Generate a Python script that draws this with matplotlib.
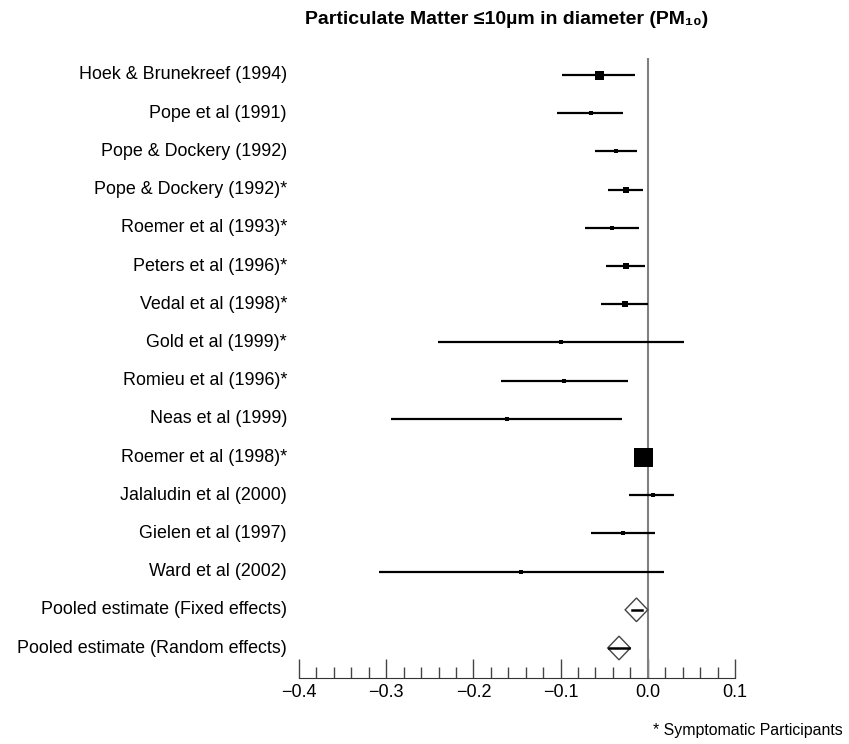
import numpy as np
import matplotlib
matplotlib.use("Agg")
import matplotlib.pyplot as plt

plt.rcParams['font.family'] = ['Liberation Sans', 'DejaVu Sans']

studies = ['Hoek & Brunekreef (1994)',
           'Pope et al (1991)',
           'Pope & Dockery (1992)',
           'Pope & Dockery (1992)*',
           'Roemer et al (1993)*',
           'Peters et al (1996)*',
           'Vedal et al (1998)*',
           'Gold et al (1999)*',
           'Romieu et al (1996)*',
           'Neas et al (1999)',
           'Roemer et al (1998)*',
           'Jalaludin et al (2000)',
           'Gielen et al (1997)',
           'Ward et al (2002)']
est = [-0.056, -0.065, -0.036, -0.025, -0.041, -0.025, -0.026, -0.099, -0.096, -0.162,
       -0.006, 0.006, -0.028, -0.145]
lo = [-0.098, -0.104, -0.060, -0.046, -0.072, -0.048, -0.054, -0.241, -0.168, -0.294,
      -0.012, -0.021, -0.065, -0.308]
hi = [-0.015, -0.028, -0.012, -0.005, -0.010, -0.003, 0.000, 0.042, -0.023, -0.030,
      0.000, 0.030, 0.008, 0.019]
# box size (px) ~ study weight
box = [9, 5, 4, 6, 4, 6, 6, 4, 4, 4, 19, 5, 5, 5]

pooled = ['Pooled estimate (Fixed effects)', 'Pooled estimate (Random effects)']
pool_est = [-0.013, -0.033]
pool_lo = [-0.026, -0.046]
pool_hi = [0.000, -0.020]
pool_line = [(-0.018, -0.007), (-0.045, -0.021)]

fig = plt.figure(figsize=(8.49, 7.44), dpi=100)
ax = fig.add_axes([299/849, 1-678/744, (735-299)/849, (678-58)/744])

n = len(studies)
ypos = np.arange(n)
for i in range(n):
    ax.plot([lo[i], hi[i]], [ypos[i], ypos[i]], color='black', lw=1.6, solid_capstyle='butt', zorder=3)
    ax.plot(est[i], ypos[i], marker='s', color='black', ms=box[i]*0.72, mew=0, zorder=4)

for j in range(2):
    y = n + j
    xs = [pool_lo[j], pool_est[j], pool_hi[j], pool_est[j], pool_lo[j]]
    ys = [y, y - 0.31, y, y + 0.31, y]
    ax.fill(xs, ys, facecolor='white', edgecolor='#444444', lw=1.0, zorder=4)
    ax.plot(pool_line[j], [y, y], color='black', lw=1.8, zorder=5)

ax.axvline(0, color='#808080', lw=1.5, zorder=2)

ax.set_xlim(-0.4, 0.1)
ax.set_ylim(n + 1 + 0.785, -0.445)
for s in ['top', 'right', 'left']:
    ax.spines[s].set_visible(False)
ax.spines['bottom'].set_color('#333333')
ax.set_yticks([])
ax.set_xticks(np.arange(-0.4, 0.101, 0.1))
ax.set_xticks(np.arange(-0.4, 0.101, 0.02), minor=True)
ax.set_xticklabels(['\u22120.4', '\u22120.3', '\u22120.2', '\u22120.1', '0.0', '0.1'], fontsize=13)
ax.tick_params(axis='x', which='major', direction='in', length=14, width=1, color='#444444', pad=4)
ax.tick_params(axis='x', which='minor', direction='in', length=8, width=1, color='#444444')

labels = studies + pooled
for i, lab in enumerate(labels):
    ax.text(-0.4 - 0.0138, i, lab, ha='right', va='center', fontsize=12.9, clip_on=False)

fig.text(507/849, 1-20/744, 'Particulate Matter \u226410\u00b5m in diameter (PM\u2081\u2080)',
         ha='center', va='center', fontsize=14, fontweight='bold')
fig.text(843/849, 1-730/744, '* Symptomatic Participants', ha='right', va='center', fontsize=11.4)

fig.savefig('out.png', dpi=100)
